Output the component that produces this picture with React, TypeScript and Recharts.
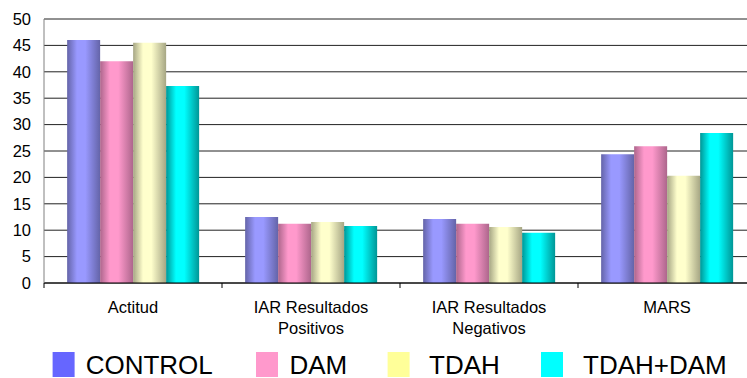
import React from "react";
import { BarChart, Bar, XAxis, YAxis, CartesianGrid, Legend } from "recharts";

const categories = [
  "Actitud",
  "IAR Resultados Positivos",
  "IAR Resultados Negativos",
  "MARS",
];
const categoryLines: string[][] = [
  ["Actitud"],
  ["IAR Resultados", "Positivos"],
  ["IAR Resultados", "Negativos"],
  ["MARS"],
];
const seriesNames = ["CONTROL", "DAM", "TDAH", "TDAH+DAM"];
const controlValues = [46.0, 12.5, 12.1, 24.4];
const damValues = [42.0, 11.2, 11.2, 25.9];
const tdahValues = [45.5, 11.55, 10.6, 20.3];
const tdahDamValues = [37.3, 10.8, 9.5, 28.4];
const yTicks = [0, 5, 10, 15, 20, 25, 30, 35, 40, 45, 50];

const seriesKeys = ["control", "dam", "tdah", "tdahDam"];
const seriesValues = [controlValues, damValues, tdahValues, tdahDamValues];

// styling
const baseColors = ["#9999FF", "#FF99CC", "#FFFFCC", "#00FFFF"];
const darkColors = ["#6464A8", "#AD668C", "#A6A684", "#009696"];
const legendColors = ["#6666FF", "#FF99CC", "#FFFF99", "#00FFFF"];
const legendSwatchX = [52.6, 256, 387.6, 541];
const legendTextX = [85.7, 289.5, 429, 583];

const FONT = '"Liberation Sans", Arial, sans-serif';

const data = categories.map((c, i) => {
  const row: Record<string, string | number> = { name: c };
  seriesKeys.forEach((k, s) => {
    row[k] = seriesValues[s][i];
  });
  return row;
});

const CategoryTick = (props: any) => {
  const { x, y, payload, index } = props;
  const idx = categories.indexOf(payload.value);
  const lines = idx >= 0 ? categoryLines[idx] : [String(payload.value)];
  const half = payload && payload.offset ? payload.offset : 89;
  const isLast = index === categories.length - 1;
  return (
    <g>
      <line x1={x - half} x2={x - half} y1={y} y2={y + 5} stroke="#000" />
      {isLast && (
        <line x1={x + half} x2={x + half} y1={y} y2={y + 5} stroke="#000" />
      )}
      <text
        x={x}
        y={y}
        textAnchor="middle"
        fill="#000"
        fontSize={16.5}
        fontFamily={FONT}
      >
        {lines.map((l, i) => (
          <tspan key={i} x={x} dy={i === 0 ? 29.5 : 21.5}>
            {l}
          </tspan>
        ))}
      </text>
    </g>
  );
};

const LegendContent = () => (
  <svg width={747} height={50} style={{ display: "block", overflow: "visible" }}>
    {seriesNames.map((n, i) => (
      <g key={n}>
        <rect x={legendSwatchX[i]} y={24} width={22} height={25} fill={legendColors[i]} />
        <text x={legendTextX[i]} y={45.5} fontSize={26} fontFamily={FONT} fill="#000">
          {n}
        </text>
      </g>
    ))}
  </svg>
);

export default function App() {
  return (
    <div
      style={{
        position: "absolute",
        left: 0,
        top: 0,
        width: 747,
        height: 378,
        overflow: "hidden",
        background: "#fff",
      }}
    >
      <BarChart
        width={770}
        height={378}
        data={data}
        margin={{ top: 19, right: 14, bottom: 0, left: 0 }}
        barCategoryGap="13%"
        barGap={0}
        style={{ fontFamily: FONT }}
      >
        <defs>
          {seriesKeys.map((k, i) => (
            <linearGradient key={k} id={`grad-${k}`} x1="0" y1="0" x2="1" y2="0">
              <stop offset="0%" stopColor={darkColors[i]} />
              <stop offset="30%" stopColor={baseColors[i]} />
              <stop offset="55%" stopColor={baseColors[i]} />
              <stop offset="100%" stopColor={darkColors[i]} />
            </linearGradient>
          ))}
        </defs>
        <CartesianGrid
          vertical={false}
          stroke="#222"
          strokeWidth={1}
          xAxisId="cat"
          yAxisId="y"
        />
        <XAxis
          xAxisId="cat"
          dataKey="name"
          height={45}
          axisLine={{ stroke: "#000" }}
          tickLine={false}
          tickSize={0}
          tickMargin={0}
          interval={0}
          tick={<CategoryTick />}
        />
        <YAxis
          yAxisId="y"
          width={44}
          domain={[0, 50]}
          ticks={yTicks}
          interval={0}
          tickLine={false}
          tickSize={6}
          tickMargin={7}
          axisLine={{ stroke: "#808080" }}
          tick={{ fill: "#000", fontSize: 16.5, fontFamily: FONT }}
        />
        <Legend
          verticalAlign="bottom"
          height={50}
          content={<LegendContent />}
          wrapperStyle={{ left: 0, bottom: 0, width: 747, height: 50 }}
        />
        {seriesKeys.map((k, i) => (
          <Bar
            key={k}
            dataKey={k}
            name={seriesNames[i]}
            xAxisId="cat"
            yAxisId="y"
            fill={`url(#grad-${k})`}
            isAnimationActive={false}
          />
        ))}
      </BarChart>
    </div>
  );
}
